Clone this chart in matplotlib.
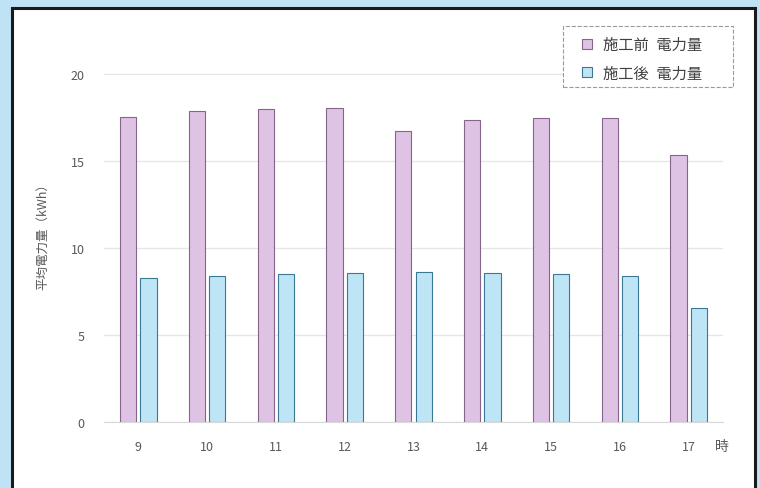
import matplotlib.pyplot as plt
from matplotlib.lines import Line2D
from matplotlib.patches import Rectangle
import numpy as np

plt.rcParams['font.family'] = ['Noto Sans CJK JP', 'DejaVu Sans']

# hours and average power (kWh)
hours = ['9', '10', '11', '12', '13', '14', '15', '16', '17']
before = [17.55, 17.9, 18.0, 18.05, 16.7, 17.35, 17.45, 17.45, 15.35]
after = [8.3, 8.4, 8.5, 8.55, 8.6, 8.55, 8.5, 8.4, 6.55]
series_names = ['施工前\u2002電力量', '施工後\u2002電力量']

pink, pink_edge = '#dfc3e4', '#85668a'
blue, blue_edge = '#bee5f6', '#3a7895'
text_col = '#595959'

fig = plt.figure(figsize=(7.6, 4.89), dpi=100)
fig.patch.set_facecolor('#bfe3f5')

# white panel with dark frame
W, H = 760, 489
panel = Rectangle((12 / W, -0.05), (755 - 12) / W, 1.05 - 9 / H,
                  transform=fig.transFigure, facecolor='white',
                  edgecolor='#1a1a1a', linewidth=2.2, zorder=-5)
fig.patches.append(panel)

ax = fig.add_axes([104 / W, 1 - 423 / H, (723 - 104) / W, (423 - 75) / H])
ax.set_zorder(2)
ax.set_facecolor('none')

x = np.arange(len(hours))
w = 0.235
off = 0.148
ax.bar(x - off, before, width=w, color=pink, edgecolor=pink_edge, linewidth=0.8, zorder=3)
ax.bar(x + off, after, width=w, color=blue, edgecolor=blue_edge, linewidth=0.8, zorder=3)

ax.set_xlim(-0.5, len(hours) - 0.5)
ax.set_ylim(0, 20)
ax.set_yticks([0, 5, 10, 15, 20])
ax.yaxis.grid(True, color='#e6e6e6', linewidth=1.0, zorder=0)
ax.get_ygridlines()[-1].set_clip_on(False)
for s in ['top', 'right', 'left']:
    ax.spines[s].set_visible(False)
ax.spines['bottom'].set_color('#d9d9d9')
ax.set_xticks(x)
ax.set_xticklabels(hours)
ax.tick_params(axis='both', length=0, labelsize=9, labelcolor=text_col)
ax.tick_params(axis='x', pad=13)
ax.tick_params(axis='y', pad=14)

ax.set_ylabel('平均電力量（kWh）', fontsize=9, color=text_col)
ax.yaxis.set_label_coords(-0.088, 0.545)
fig.text(722 / W, 1 - 447 / H, '時', fontsize=10, color=text_col,
         ha='center', va='center')

# legend: dashed box drawn separately, entries placed inside it
box = Rectangle((563 / W, 1 - 88 / H), (733 - 563) / W, (88 - 27) / H,
                transform=fig.transFigure, facecolor='white',
                edgecolor='#9a9a9a', linestyle='--', linewidth=0.8, zorder=4)
fig.patches.append(box)

handles = [Line2D([], [], linestyle='none', marker='s', markersize=7.5,
                  markerfacecolor=pink, markeredgecolor=pink_edge, markeredgewidth=0.8),
           Line2D([], [], linestyle='none', marker='s', markersize=7.5,
                  markerfacecolor=blue, markeredgecolor=blue_edge, markeredgewidth=0.8)]
leg = fig.legend(handles, series_names, loc='upper left',
                 bbox_to_anchor=(563 / W, 1 - 27 / H), fontsize=11,
                 handlelength=1.9, handletextpad=0.1,
                 labelspacing=0.75, borderpad=0.65, borderaxespad=0,
                 frameon=False, labelcolor='#404040')
leg.set_zorder(5)

fig.savefig('out.png', dpi=100)
